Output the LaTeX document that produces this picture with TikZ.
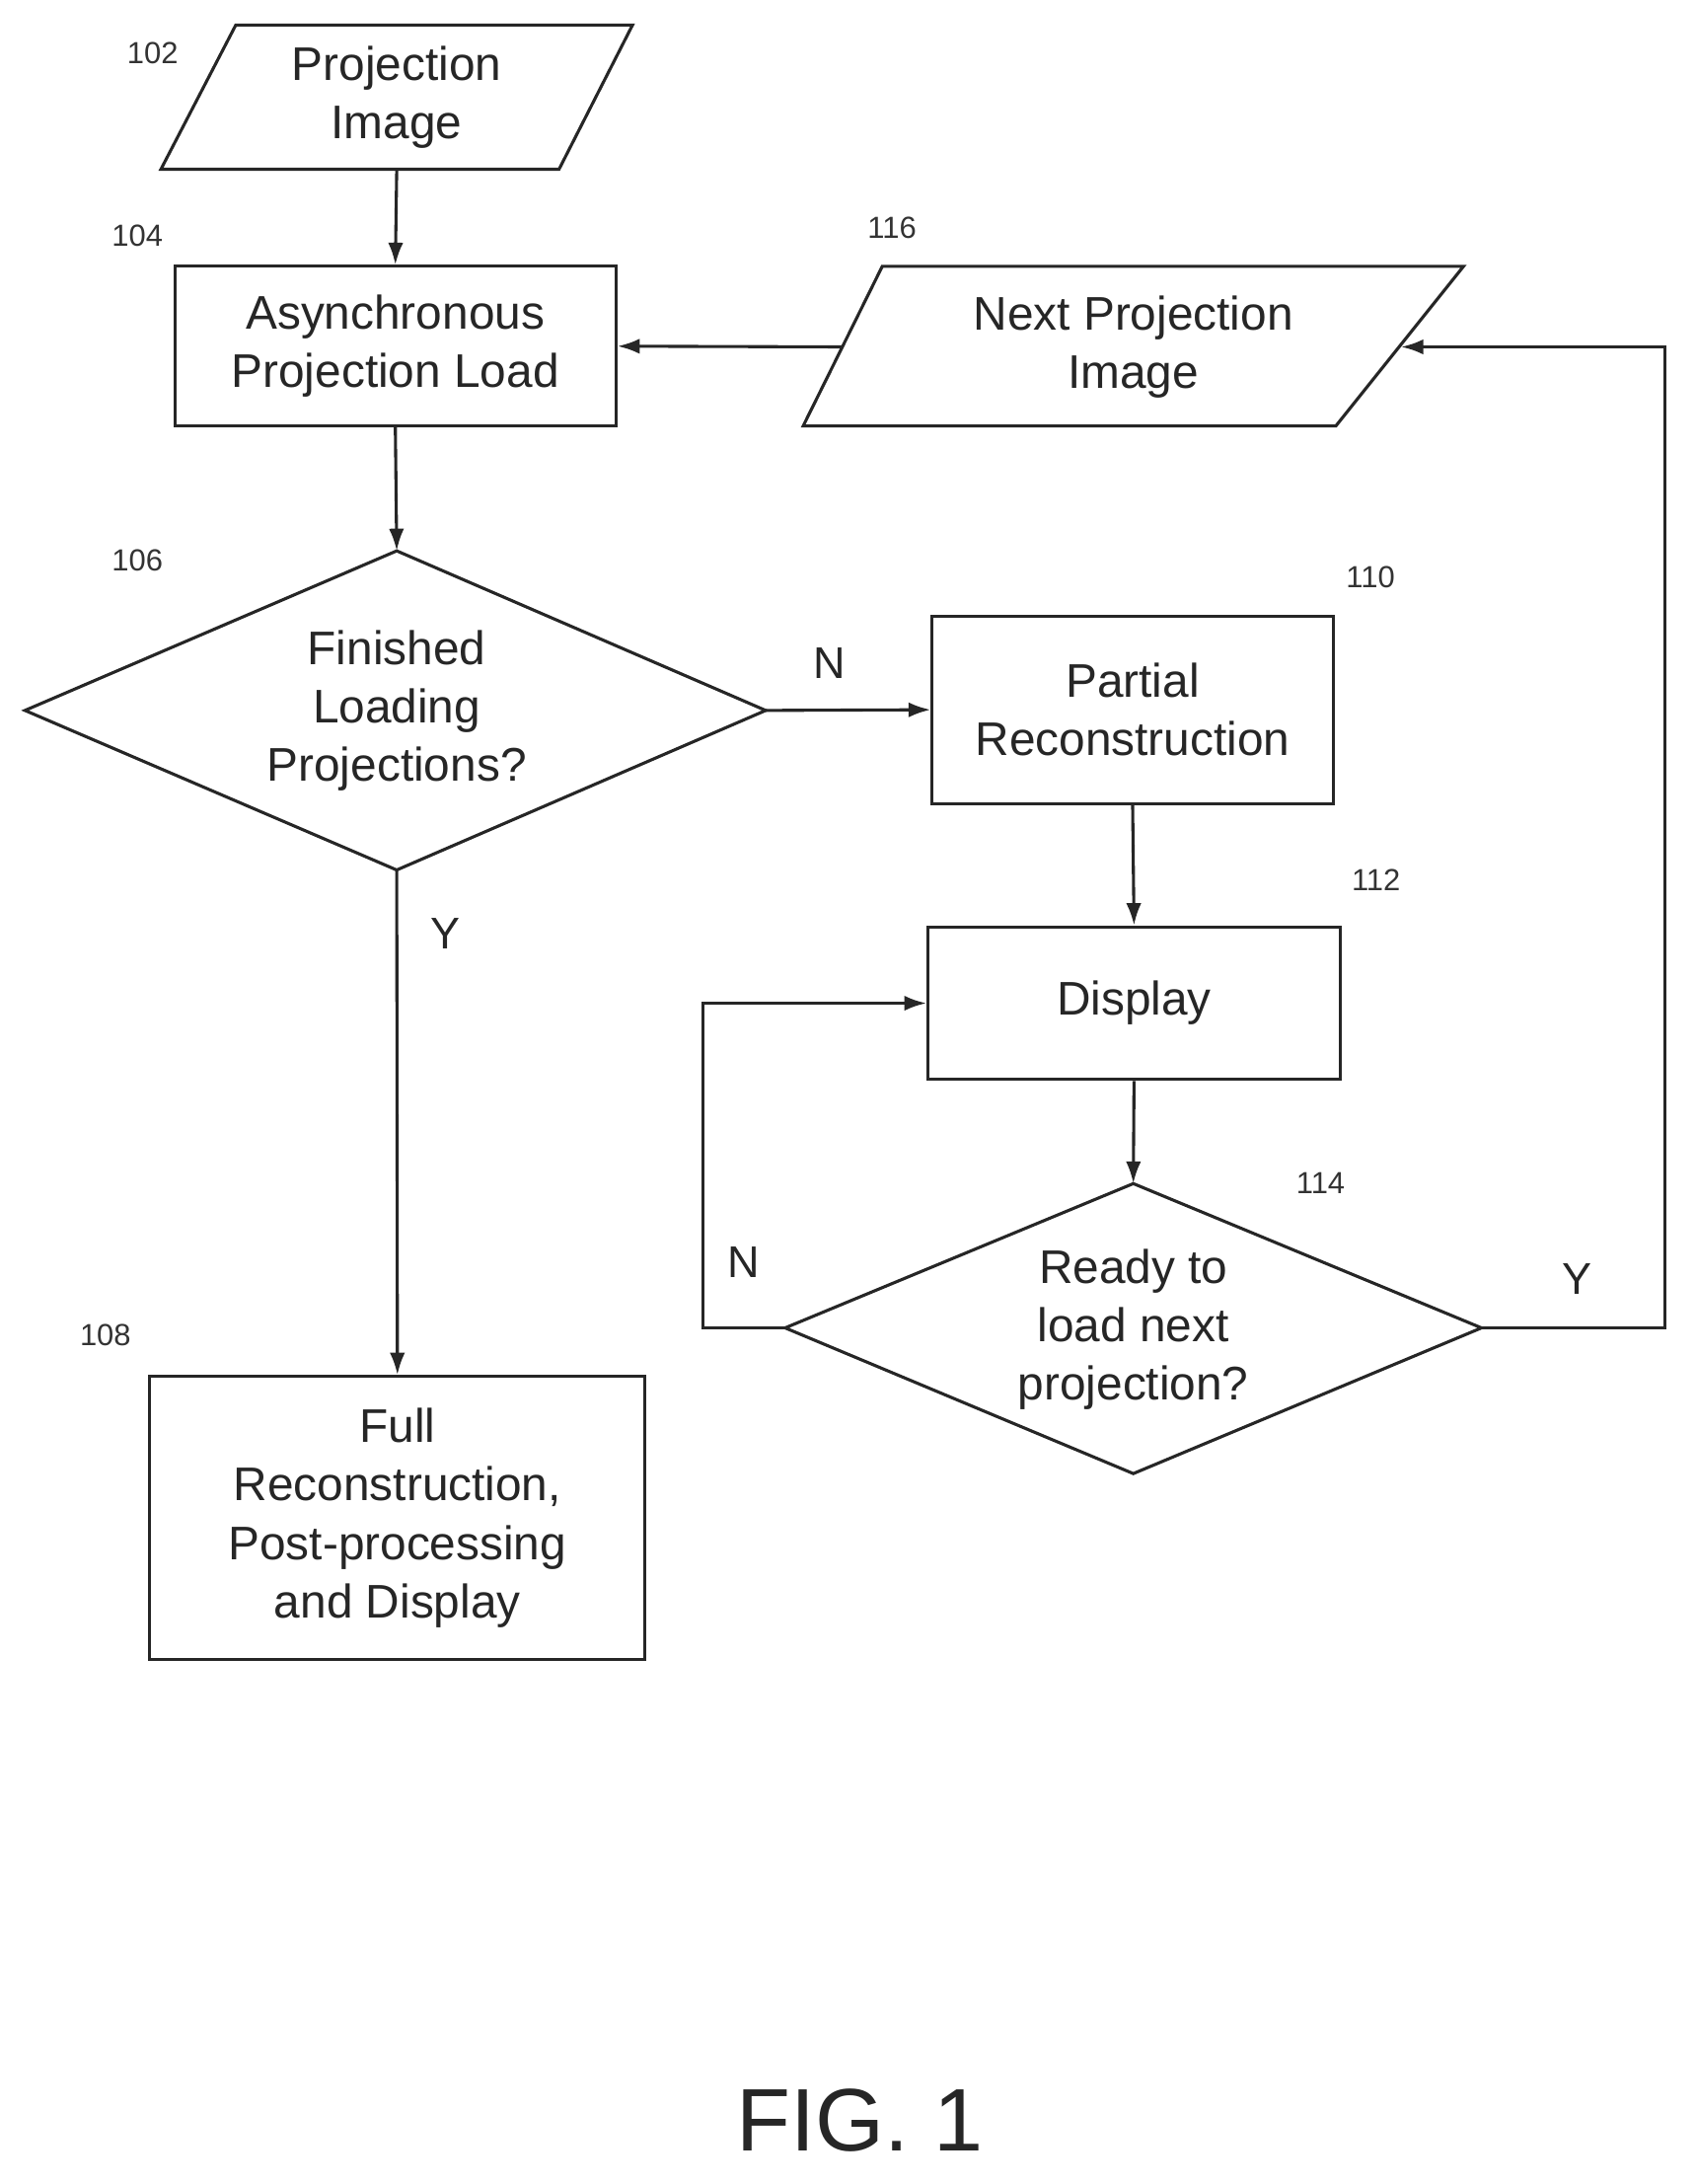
\documentclass[tikz,border=0pt]{standalone}
\usepackage{fontspec}
\setmainfont{Liberation Sans}
\usetikzlibrary{arrows.meta}
\begin{document}
\begin{tikzpicture}[x=1pt,y={(0,-1pt)},
  line/.style={line width=2.2pt,draw=black!85},
  arr/.style={line,-{Latex[length=16pt,width=11pt]}},
  txt/.style={font=\fontsize{34}{42}\selectfont,align=center,text=black!85},
  num/.style={font=\fontsize{22}{26}\selectfont,text=black!80},
  yn/.style={font=\fontsize{32}{36}\selectfont,text=black!85}]
\useasboundingbox (0,0) rectangle (1222,1574);
% 102
\draw[line] (170,18) -- (456,18) -- (403,122) -- (116,122) -- cycle;
\node[txt] (p102) at (286,70) {Projection\\Image};
\coordinate (p102s) at (286,122);
% 104
\node[line,txt,draw,minimum width=318pt,minimum height=115pt] (b104) at (285,249.5) {Asynchronous\\Projection Load};
% 116
\draw[line] (636,192) -- (1055,192) -- (963,307) -- (579,307) -- cycle;
\node[txt] (p116) at (817,250) {Next Projection\\Image};
\coordinate (p116w) at (607,250);
\coordinate (p116e) at (1010,250);
% 106
\draw[line] (18,512) -- (286,397) -- (552,512) -- (286,627) -- cycle;
\node[txt] (d106) at (286,512) {Finished\\Loading\\Projections?};
\coordinate (d106n) at (286,397);\coordinate (d106e) at (552,512);\coordinate (d106s) at (286,627);
% 110
\node[line,txt,draw,minimum width=289pt,minimum height=135pt] (b110) at (816.5,511.5) {Partial\\Reconstruction};
% 112
\node[line,txt,draw,minimum width=297pt,minimum height=110pt] (b112) at (817.5,723) {Display};
% 114
\draw[line] (566,957) -- (817,853) -- (1068,957) -- (817,1062) -- cycle;
\node[txt] (d114) at (817,958) {Ready to\\load next\\projection?};
\coordinate (d114n) at (817,853);\coordinate (d114w) at (566,957);\coordinate (d114e) at (1068,957);
% 108
\node[line,txt,draw,minimum width=357pt,minimum height=204pt] (b108) at (286.5,1094) {Full\\Reconstruction,\\Post-processing\\and Display};
% connectors
\draw[arr] (p102s) -- (b104.north);
\draw[arr] (p116w) -- (b104.east);
\draw[arr] (b104.south) -- (d106n);
\draw[arr] (d106e) -- (b110.west);
\draw[arr] (d106s) -- (b108.north);
\draw[arr] (b110.south) -- (b112.north);
\draw[arr] (b112.south) -- (d114n);
\coordinate (cl) at (507,957);
\draw[arr] (d114w) -- (cl) |- (b112.west);
\coordinate (cr) at (1200,957);
\draw[arr] (d114e) -- (cr) |- (p116e);
% labels
\node[yn] (lN1) at (598,478) {N};
\node[yn] (lY1) at (321,673) {Y};
\node[yn] (lN2) at (536,910) {N};
\node[yn] (lY2) at (1137,922) {Y};
\node[num] (n102) at (110,38) {102};
\node[num] (n104) at (99,170) {104};
\node[num] (n116) at (643,164) {116};
\node[num] (n106) at (99,404) {106};
\node[num] (n110) at (988,416) {110};
\node[num] (n112) at (992,634) {112};
\node[num] (n114) at (952,853) {114};
\node[num] (n108) at (76,962) {108};
\node[font=\fontsize{64}{70}\selectfont,text=black!85] (fig) at (620,1528) {FIG. 1};
\end{tikzpicture}
\end{document}
